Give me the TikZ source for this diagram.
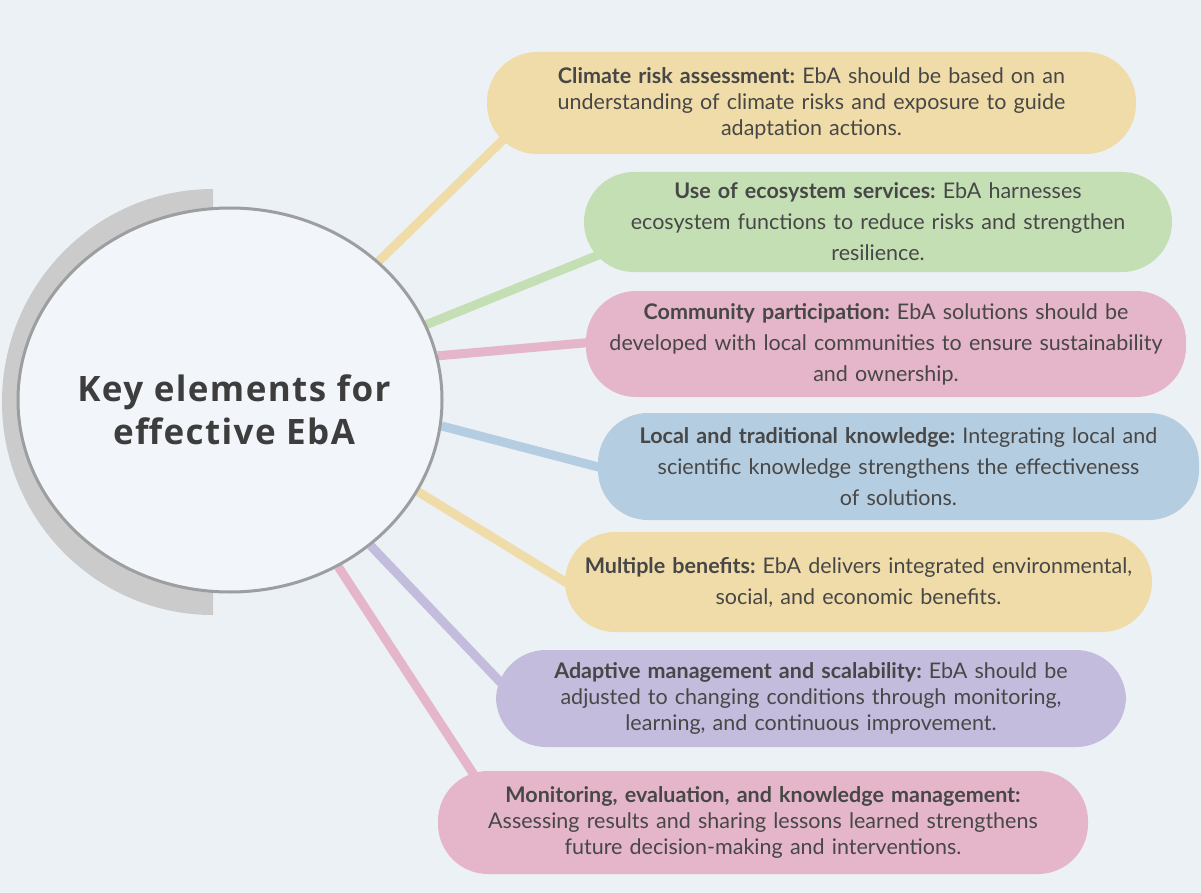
\documentclass[tikz,border=0pt]{standalone}
\usepackage{fontspec}
\setmainfont{Lato}
\newfontfamily\hubfont{Open Sans}[LetterSpace=4]
\usetikzlibrary{shapes.geometric,backgrounds}
\definecolor{bgc}{HTML}{ECF1F6}
\definecolor{hubfill}{HTML}{F2F6FA}
\definecolor{hubline}{HTML}{9C9EA0}
\definecolor{arcgray}{HTML}{CBCBCB}
\definecolor{cyel}{HTML}{F0DCA8}
\definecolor{cgreen}{HTML}{C5DFB5}
\definecolor{cpink}{HTML}{E5B5C9}
\definecolor{cblue}{HTML}{B5CDE0}
\definecolor{cpurple}{HTML}{C4BCDD}
\definecolor{txt}{HTML}{474747}
\definecolor{hubtxt}{HTML}{3D3D3D}
\tikzset{
  box/.style={rectangle, rounded corners=50pt, inner sep=0pt, align=center, text=txt},
  tight/.style={font=\frenchspacing\fontsize{21.5}{26}\selectfont},
  loose/.style={font=\frenchspacing\fontsize{21.5}{31}\selectfont},
  link/.style={line width=9pt},
}
\begin{document}
\begin{tikzpicture}[x=1pt,y=-1pt]
\begin{scope}[on background layer]
  \fill[bgc] (0,0) rectangle (1201,893);
\end{scope}
\useasboundingbox (0,0) rectangle (1201,893);
% gray half ring
\begin{scope}
  \clip (0,0) rectangle (213,893);
  \fill[arcgray] (213,402) ellipse [x radius=211pt, y radius=213pt];
\end{scope}
% hub
\node[ellipse, draw=hubline, line width=3pt, fill=hubfill, minimum width=424pt, minimum height=384pt, inner sep=0pt] (hub) at (230,400) {};
\node[font=\hubfont\bfseries\fontsize{35}{43}\selectfont, text=hubtxt, align=center] (hubtext) at (234,410) {Key elements for\\effective EbA};
% boxes
\node[box, tight, fill=cyel, minimum width=649pt, minimum height=102pt, text width=649pt] (b1) at (811.5,103)
  {\textbf{Climate risk assessment:} EbA should be based on an\\understanding of climate risks and exposure to guide\\adaptation actions.};
\node[box, loose, fill=cgreen, minimum width=588pt, minimum height=100pt, text width=588pt] (b2) at (878,222)
  {\textbf{Use of ecosystem services:} EbA harnesses\\ecosystem functions to reduce risks and strengthen\\resilience.};
\node[box, loose, fill=cpink, minimum width=600pt, minimum height=106pt, text width=600pt] (b3) at (886,344)
  {\textbf{Community participation:} EbA solutions should be\\developed with local communities to ensure sustainability\\and ownership.};
\node[box, loose, fill=cblue, minimum width=601pt, minimum height=107pt, text width=601pt] (b4) at (898.5,466.5)
  {\textbf{Local and traditional knowledge:} Integrating local and\\scientific knowledge strengthens the effectiveness\\of solutions.};
\node[box, loose, fill=cyel, minimum width=587pt, minimum height=100pt, text width=587pt] (b5) at (858.5,582)
  {\textbf{Multiple benefits:} EbA delivers integrated environmental,\\social, and economic benefits.};
\node[box, tight, fill=cpurple, minimum width=630pt, minimum height=97pt, text width=630pt] (b6) at (811,698.5)
  {\textbf{Adaptive management and scalability:} EbA should be\\adjusted to changing conditions through monitoring,\\learning, and continuous improvement.};
\node[box, tight, fill=cpink, minimum width=650pt, minimum height=103pt, text width=650pt] (b7) at (763,822.5)
  {\textbf{Monitoring, evaluation, and knowledge management:}\\Assessing results and sharing lessons learned strengthens\\future decision-making and interventions.};
% connector ends (inside boxes)
\coordinate (e1) at (510,133);
\coordinate (e2) at (606,252);
\coordinate (e3) at (595,342);
\coordinate (e4) at (606,469);
\coordinate (e5) at (572,586);
\coordinate (e6) at (504,686);
\coordinate (e7) at (478,781);
\begin{scope}[on background layer]
  \draw[link, cyel] (hub.43.6) -- (e1);
  \draw[link, cgreen] (hub.21.6) -- (e2);
  \draw[link, cpink] (hub.12.2) -- (e3);
  \draw[link, cblue] (hub.-7.6) -- (e4);
  \draw[link, cyel] (hub.-26.9) -- (e5);
  \draw[link, cpurple] (hub.-46.6) -- (e6);
  \draw[link, cpink] (hub.-57.1) -- (e7);
\end{scope}
\end{tikzpicture}
\end{document}
